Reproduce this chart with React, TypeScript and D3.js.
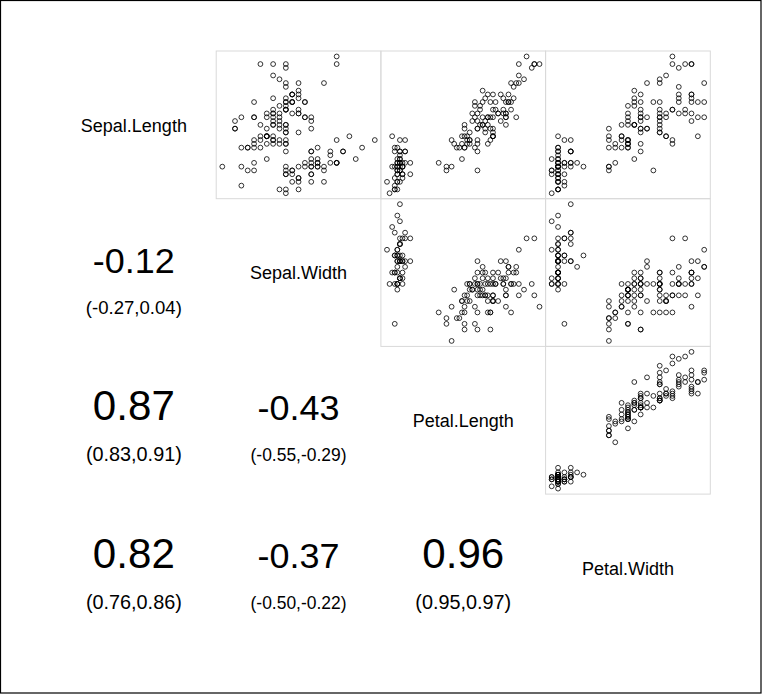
import React, { useEffect, useRef } from "react";
import * as d3 from "d3";

const varNames = ["Sepal.Length", "Sepal.Width", "Petal.Length", "Petal.Width"];

const sepalLength = [
  5.1, 4.9, 4.7, 4.6, 5.0, 5.4, 4.6, 5.0, 4.4, 4.9, 5.4, 4.8, 4.8, 4.3, 5.8, 5.7, 5.4, 5.1, 5.7, 5.1, 5.4, 5.1, 4.6, 5.1, 4.8,
  5.0, 5.0, 5.2, 5.2, 4.7, 4.8, 5.4, 5.2, 5.5, 4.9, 5.0, 5.5, 4.9, 4.4, 5.1, 5.0, 4.5, 4.4, 5.0, 5.1, 4.8, 5.1, 4.6, 5.3, 5.0,
  7.0, 6.4, 6.9, 5.5, 6.5, 5.7, 6.3, 4.9, 6.6, 5.2, 5.0, 5.9, 6.0, 6.1, 5.6, 6.7, 5.6, 5.8, 6.2, 5.6, 5.9, 6.1, 6.3, 6.1, 6.4,
  6.6, 6.8, 6.7, 6.0, 5.7, 5.5, 5.5, 5.8, 6.0, 5.4, 6.0, 6.7, 6.3, 5.6, 5.5, 5.5, 6.1, 5.8, 5.0, 5.6, 5.7, 5.7, 6.2, 5.1, 5.7,
  6.3, 5.8, 7.1, 6.3, 6.5, 7.6, 4.9, 7.3, 6.7, 7.2, 6.5, 6.4, 6.8, 5.7, 5.8, 6.4, 6.5, 7.7, 7.7, 6.0, 6.9, 5.6, 7.7, 6.3, 6.7,
  7.2, 6.2, 6.1, 6.4, 7.2, 7.4, 7.9, 6.4, 6.3, 6.1, 7.7, 6.3, 6.4, 6.0, 6.9, 6.7, 6.9, 5.8, 6.8, 6.7, 6.7, 6.3, 6.5, 6.2, 5.9,
];

const sepalWidth = [
  3.5, 3.0, 3.2, 3.1, 3.6, 3.9, 3.4, 3.4, 2.9, 3.1, 3.7, 3.4, 3.0, 3.0, 4.0, 4.4, 3.9, 3.5, 3.8, 3.8, 3.4, 3.7, 3.6, 3.3, 3.4,
  3.0, 3.4, 3.5, 3.4, 3.2, 3.1, 3.4, 4.1, 4.2, 3.1, 3.2, 3.5, 3.6, 3.0, 3.4, 3.5, 2.3, 3.2, 3.5, 3.8, 3.0, 3.8, 3.2, 3.7, 3.3,
  3.2, 3.2, 3.1, 2.3, 2.8, 2.8, 3.3, 2.4, 2.9, 2.7, 2.0, 3.0, 2.2, 2.9, 2.9, 3.1, 3.0, 2.7, 2.2, 2.5, 3.2, 2.8, 2.5, 2.8, 2.9,
  3.0, 2.8, 3.0, 2.9, 2.6, 2.4, 2.4, 2.7, 2.7, 3.0, 3.4, 3.1, 2.3, 3.0, 2.5, 2.6, 3.0, 2.6, 2.3, 2.7, 3.0, 2.9, 2.9, 2.5, 2.8,
  3.3, 2.7, 3.0, 2.9, 3.0, 3.0, 2.5, 2.9, 2.5, 3.6, 3.2, 2.7, 3.0, 2.5, 2.8, 3.2, 3.0, 3.8, 2.6, 2.2, 3.2, 2.8, 2.8, 2.7, 3.3,
  3.2, 2.8, 3.0, 2.8, 3.0, 2.8, 3.8, 2.8, 2.8, 2.6, 3.0, 3.4, 3.1, 3.0, 3.1, 3.1, 3.1, 2.7, 3.2, 3.3, 3.0, 2.5, 3.0, 3.4, 3.0,
];

const petalLength = [
  1.4, 1.4, 1.3, 1.5, 1.4, 1.7, 1.4, 1.5, 1.4, 1.5, 1.5, 1.6, 1.4, 1.1, 1.2, 1.5, 1.3, 1.4, 1.7, 1.5, 1.7, 1.5, 1.0, 1.7, 1.9,
  1.6, 1.6, 1.5, 1.4, 1.6, 1.6, 1.5, 1.5, 1.4, 1.5, 1.2, 1.3, 1.4, 1.3, 1.5, 1.3, 1.3, 1.3, 1.6, 1.9, 1.4, 1.6, 1.4, 1.5, 1.4,
  4.7, 4.5, 4.9, 4.0, 4.6, 4.5, 4.7, 3.3, 4.6, 3.9, 3.5, 4.2, 4.0, 4.7, 3.6, 4.4, 4.5, 4.1, 4.5, 3.9, 4.8, 4.0, 4.9, 4.7, 4.3,
  4.4, 4.8, 5.0, 4.5, 3.5, 3.8, 3.7, 3.9, 5.1, 4.5, 4.5, 4.7, 4.4, 4.1, 4.0, 4.4, 4.6, 4.0, 3.3, 4.2, 4.2, 4.2, 4.3, 3.0, 4.1,
  6.0, 5.1, 5.9, 5.6, 5.8, 6.6, 4.5, 6.3, 5.8, 6.1, 5.1, 5.3, 5.5, 5.0, 5.1, 5.3, 5.5, 6.7, 6.9, 5.0, 5.7, 4.9, 6.7, 4.9, 5.7,
  6.0, 4.8, 4.9, 5.6, 5.8, 6.1, 6.4, 5.6, 5.1, 5.6, 6.1, 5.6, 5.5, 4.8, 5.4, 5.6, 5.1, 5.1, 5.9, 5.7, 5.2, 5.0, 5.2, 5.4, 5.1,
];

const petalWidth = [
  0.2, 0.2, 0.2, 0.2, 0.2, 0.4, 0.3, 0.2, 0.2, 0.1, 0.2, 0.2, 0.1, 0.1, 0.2, 0.4, 0.4, 0.3, 0.3, 0.3, 0.2, 0.4, 0.2, 0.5, 0.2,
  0.2, 0.4, 0.2, 0.2, 0.2, 0.2, 0.4, 0.1, 0.2, 0.2, 0.2, 0.2, 0.1, 0.2, 0.2, 0.3, 0.3, 0.2, 0.6, 0.4, 0.3, 0.2, 0.2, 0.2, 0.2,
  1.4, 1.5, 1.5, 1.3, 1.5, 1.3, 1.6, 1.0, 1.3, 1.4, 1.0, 1.5, 1.0, 1.4, 1.3, 1.4, 1.5, 1.0, 1.5, 1.1, 1.8, 1.3, 1.5, 1.2, 1.3,
  1.4, 1.4, 1.7, 1.5, 1.0, 1.1, 1.0, 1.2, 1.6, 1.5, 1.6, 1.5, 1.3, 1.3, 1.3, 1.2, 1.4, 1.2, 1.0, 1.3, 1.2, 1.3, 1.3, 1.1, 1.3,
  2.5, 1.9, 2.1, 1.8, 2.2, 2.1, 1.7, 1.8, 1.8, 2.5, 2.0, 1.9, 2.1, 2.0, 2.4, 2.3, 1.8, 2.2, 2.3, 1.5, 2.3, 2.0, 2.0, 1.8, 2.1,
  1.8, 1.8, 1.8, 2.1, 1.6, 1.9, 2.0, 2.2, 1.5, 1.4, 2.3, 2.4, 1.8, 1.8, 2.1, 2.4, 2.3, 1.9, 2.3, 2.5, 2.3, 1.9, 2.0, 2.3, 1.8,
];

// lower-triangle correlation cells: [row, col]
const corCells: [number, number][] = [[1, 0], [2, 0], [2, 1], [3, 0], [3, 1], [3, 2]];
const corLabels = ["-0.12", "0.87", "-0.43", "0.82", "-0.37", "0.96"];
const ciLabels = ["(-0.27,0.04)", "(0.83,0.91)", "(-0.55,-0.29)", "(0.76,0.86)", "(-0.50,-0.22)", "(0.95,0.97)"];

const W = 762;
const H = 694;
const X0 = 51.5;
const Y0 = 51;
const CW = 164.7;
const CH = 147.7;
const FONT = "'Liberation Sans', Arial, Helvetica, sans-serif";

export default function App() {
  const ref = useRef<SVGSVGElement | null>(null);

  useEffect(() => {
    document.body.style.margin = "0";
    const svg = d3.select(ref.current);
    svg.selectAll("*").remove();
    const data = [sepalLength, sepalWidth, petalLength, petalWidth];

    svg.append("rect").attr("x", 0).attr("y", 0).attr("width", W).attr("height", H).attr("fill", "white");

    const n = varNames.length;
    const domains = data.map((v) => {
      const [mn, mx] = d3.extent(v) as [number, number];
      const pad = (mx - mn) * 0.04;
      return [mn - pad, mx + pad];
    });

    // scatter panels (upper triangle)
    for (let i = 0; i < n; i++) {
      for (let j = i + 1; j < n; j++) {
        const left = X0 + j * CW;
        const top = Y0 + i * CH;
        const xs = d3.scaleLinear().domain(domains[j]).range([left, left + CW]);
        const ys = d3.scaleLinear().domain(domains[i]).range([top + CH, top]);
        const g = svg.append("g");
        g.append("rect")
          .attr("x", left)
          .attr("y", top)
          .attr("width", CW)
          .attr("height", CH)
          .attr("fill", "none")
          .attr("stroke", "#d9d9d9")
          .attr("stroke-width", 1);
        g.selectAll("circle")
          .data(d3.range(data[0].length))
          .join("circle")
          .attr("cx", (k) => xs(data[j][k]))
          .attr("cy", (k) => ys(data[i][k]))
          .attr("r", 2.4)
          .attr("fill", "none")
          .attr("stroke", "black")
          .attr("stroke-width", 0.8);
      }
    }

    // diagonal labels
    varNames.forEach((name, i) => {
      svg.append("text")
        .attr("x", X0 + (i + 0.5) * CW)
        .attr("y", Y0 + (i + 0.5) * CH + 6.8)
        .attr("text-anchor", "middle")
        .attr("font-family", FONT)
        .attr("font-size", 18)
        .text(name);
    });

    // correlation cells
    const fitText = (sel: d3.Selection<SVGTextElement, unknown, null, undefined>, target: number) => {
      sel.attr("font-size", 20);
      const len = (sel.node() as SVGTextElement).getComputedTextLength();
      if (len > 0) sel.attr("font-size", (20 * target) / len);
    };

    corCells.forEach(([r, c], idx) => {
      const cx = X0 + (c + 0.5) * CW;
      const cy = Y0 + (r + 0.5) * CH;
      const t1 = svg.append("text")
        .attr("x", cx)
        .attr("y", cy)
        .attr("text-anchor", "middle")
        .attr("font-family", FONT)
        .text(corLabels[idx]);
      fitText(t1 as any, 82);
      const t2 = svg.append("text")
        .attr("x", cx)
        .attr("y", cy + 41)
        .attr("text-anchor", "middle")
        .attr("font-family", FONT)
        .text(ciLabels[idx]);
      fitText(t2 as any, 96);
    });

    svg.append("rect")
      .attr("x", 0.5)
      .attr("y", 0.5)
      .attr("width", W - 1.5)
      .attr("height", H - 1.5)
      .attr("fill", "none")
      .attr("stroke", "black")
      .attr("stroke-width", 1.2);
  }, []);

  return <svg ref={ref} width={W} height={H} style={{ display: "block" }} />;
}
